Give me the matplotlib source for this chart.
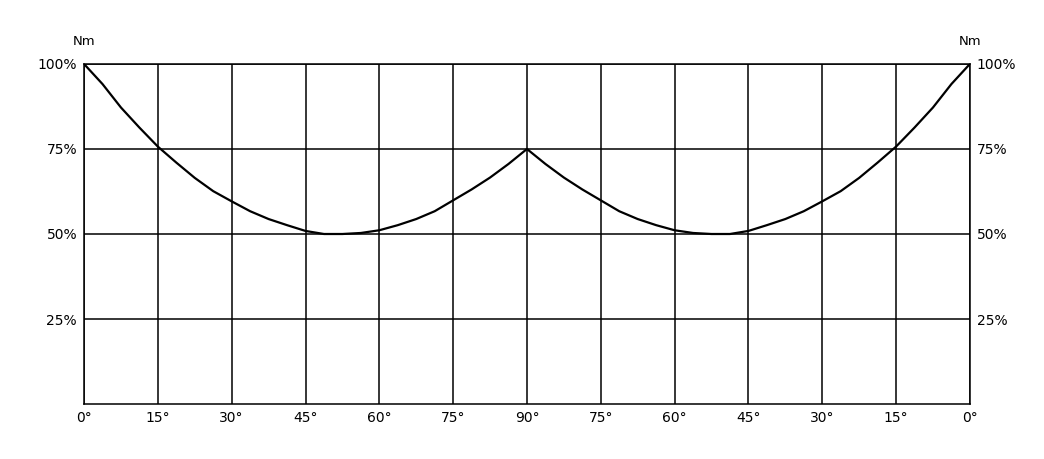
import numpy as np
import matplotlib
matplotlib.use('Agg')
import matplotlib.pyplot as plt

# torque (% of Nm), position 0..12 along the axis (quarter steps)
pos = [i / 4 for i in range(49)]
torque = [100, 94.1, 87.2, 81.3, 75.7, 71.0, 66.5, 62.6, 59.6, 56.7, 54.4, 52.6,
          50.9, 50, 50, 50.3, 51.1, 52.6, 54.4, 56.7, 59.9, 63.1, 66.6, 70.6,
          75,
          70.6, 66.6, 63.1, 59.9, 56.7, 54.4, 52.6, 51.1, 50.3, 50, 50, 50.9,
          52.6, 54.4, 56.7, 59.6, 62.6, 66.5, 71.0, 75.7, 81.3, 87.2, 94.1, 100]

x_labels = ['0°', '15°', '30°', '45°', '60°', '75°', '90°',
            '75°', '60°', '45°', '30°', '15°', '0°']
y_ticks = [25, 50, 75, 100]
y_labels = ['25%', '50%', '75%', '100%']

fig = plt.figure(figsize=(10.44, 4.59), dpi=100)
ax = fig.add_axes([0.0805, 0.1198, 0.8485, 0.7408])

ax.plot(pos, torque, color='black', lw=1.6, solid_joinstyle='round', zorder=3)

ax.set_xlim(0, 12)
ax.set_ylim(0, 100)
ax.set_xticks(range(13))
ax.set_xticklabels(x_labels, fontsize=10)
ax.set_yticks(y_ticks)
ax.set_yticklabels(y_labels, fontsize=10)
ax.tick_params(length=0, pad=5, labelright=True, labelleft=True)
ax.grid(True, color='black', lw=1.1)
for s in ax.spines.values():
    s.set_linewidth(1.1)

ax.text(0, 1.065, 'Nm', transform=ax.transAxes, ha='center', va='center', fontsize=9.5)
ax.text(1, 1.065, 'Nm', transform=ax.transAxes, ha='center', va='center', fontsize=9.5)

fig.savefig('out.png', dpi=100)
